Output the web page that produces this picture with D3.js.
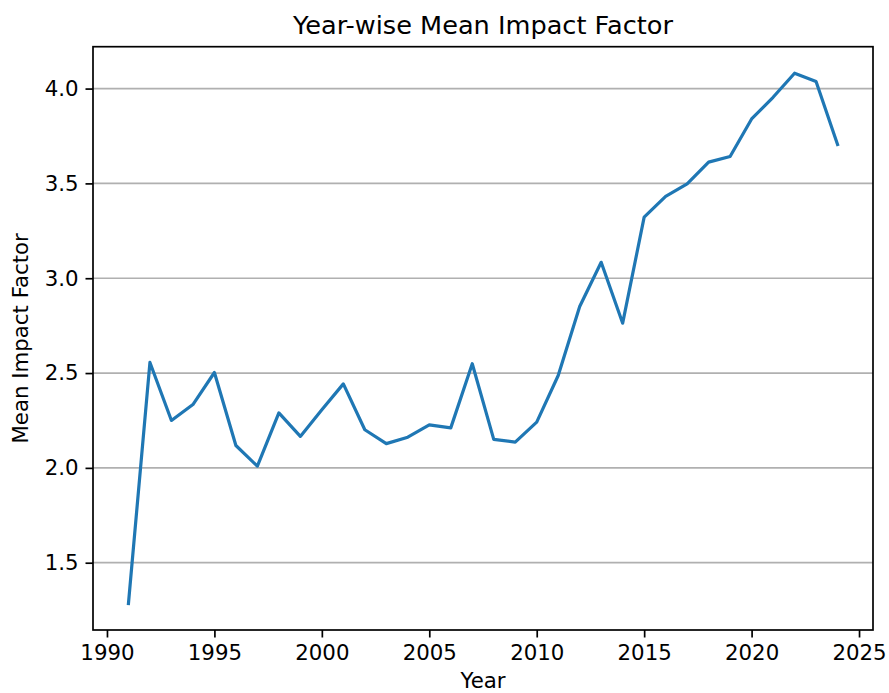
<!DOCTYPE html>
<html><head><meta charset="utf-8">
<script src="https://cdn.jsdelivr.net/npm/d3@7"></script>
<style>
body{margin:0;background:#fff;}
text{font-family:"DejaVu Sans",sans-serif;fill:#000;}
</style></head>
<body>
<svg id="chart" width="889" height="693"></svg>
<script>
const years = [1991,1992,1993,1994,1995,1996,1997,1998,1999,2000,2001,2002,2003,2004,2005,2006,2007,2008,2009,2010,2011,2012,2013,2014,2015,2016,2017,2018,2019,2020,2021,2022,2023,2024];
const meanIF = [1.285,2.556,2.25,2.334,2.503,2.118,2.009,2.29,2.166,2.306,2.443,2.201,2.128,2.162,2.227,2.211,2.549,2.15,2.136,2.241,2.487,2.851,3.084,2.763,3.322,3.432,3.497,3.612,3.642,3.84,3.954,4.081,4.037,3.705];
const xTicks = [1990,1995,2000,2005,2010,2015,2020,2025];
const yTicks = [1.5,2.0,2.5,3.0,3.5,4.0];
const titleText = "Year-wise Mean Impact Factor";
const xLabel = "Year";
const yLabel = "Mean Impact Factor";

const svg = d3.select("#chart");
const L=93, R=873, T=46.7, B=630;
const xPad = (d3.max(years)-d3.min(years))*0.05;
const yPad = (d3.max(meanIF)-d3.min(meanIF))*0.05;
const x = d3.scaleLinear().domain([d3.min(years)-xPad, d3.max(years)+xPad]).range([L,R]);
const y = d3.scaleLinear().domain([d3.min(meanIF)-yPad, d3.max(meanIF)+yPad]).range([B,T]);

// grid
svg.append("g").selectAll("line").data(yTicks).join("line")
  .attr("x1",L).attr("x2",R).attr("y1",d=>y(d)).attr("y2",d=>y(d))
  .attr("stroke","#b0b0b0").attr("stroke-width",1.7);

// line
svg.append("path").datum(years.map((d,i)=>[d,meanIF[i]]))
  .attr("fill","none").attr("stroke","#1f77b4").attr("stroke-width",3.2)
  .attr("stroke-linejoin","round").attr("stroke-linecap","square")
  .attr("d", d3.line().x(d=>x(d[0])).y(d=>y(d[1])));

// axes
const fs = 21.3;
const xAxis = svg.append("g").attr("transform",`translate(0,${B})`)
  .call(d3.axisBottom(x).tickValues(xTicks).tickFormat(d3.format("d")).tickSize(7.5).tickPadding(7));
const yAxis = svg.append("g").attr("transform",`translate(${L},0)`)
  .call(d3.axisLeft(y).tickValues(yTicks).tickFormat(d3.format(".1f")).tickSize(7.5).tickPadding(7));
[xAxis,yAxis].forEach(a=>{
  a.select(".domain").remove();
  a.selectAll(".tick line").attr("stroke","#000").attr("stroke-width",1.7);
  a.selectAll(".tick text").attr("font-size",fs).attr("font-family","DejaVu Sans").attr("fill","#000");
});

// frame
svg.append("rect").attr("x",L).attr("y",T).attr("width",R-L).attr("height",B-T)
  .attr("fill","none").attr("stroke","#000").attr("stroke-width",1.7);

svg.append("text").attr("x",(L+R)/2).attr("y",34).attr("text-anchor","middle")
  .attr("font-size",25.6).text(titleText);
svg.append("text").attr("x",(L+R)/2).attr("y",688).attr("text-anchor","middle")
  .attr("font-size",fs).text(xLabel);
svg.append("text").attr("transform",`translate(28,${(T+B)/2}) rotate(-90)`).attr("text-anchor","middle")
  .attr("font-size",fs).text(yLabel);
</script>
</body></html>
